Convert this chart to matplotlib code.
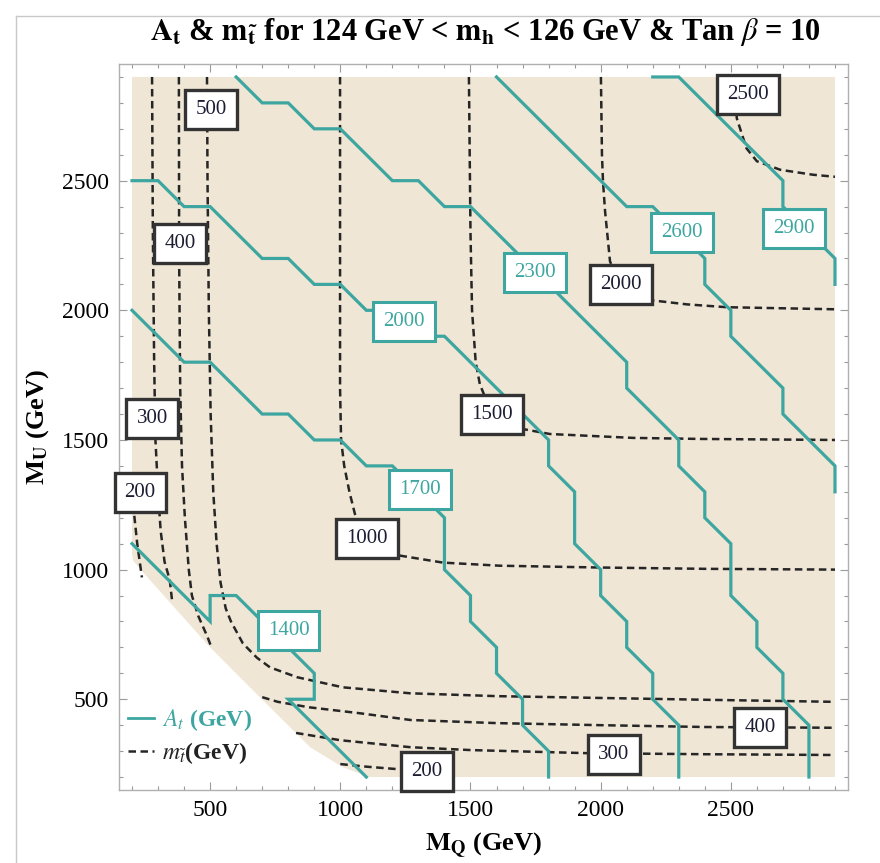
import matplotlib
matplotlib.use("Agg")
import matplotlib.pyplot as plt
from matplotlib.lines import Line2D
from matplotlib.ticker import MultipleLocator

plt.rcParams['font.family'] = ['Liberation Serif', 'DejaVu Serif']
plt.rcParams['mathtext.fontset'] = 'stix'

# ------------------------------------------------------------
# data (GeV)
# ------------------------------------------------------------

# allowed region (shaded)
region = [(200, 2900), (2900, 2900), (2900, 200), (1110, 200), (1010, 238),
          (884, 315), (703, 496), (500, 700), (242, 990), (204, 1035), (200, 1060)]

# A_t contours (cyan)
at_levels = [1400, 1700, 2000, 2300, 2600, 2900]
at_1400 = [(200, 1100), (500, 800), (500, 900), (600, 900), (700, 800), (800, 700),
           (900, 600), (900, 500), (800, 500), (1100, 200)]
at_1700 = [(200, 2000), (300, 1900), (400, 1800), (500, 1800), (700, 1600), (800, 1600),
           (900, 1500), (1000, 1500), (1100, 1400), (1200, 1400), (1300, 1300), (1400, 1200),
           (1400, 1000), (1500, 900), (1500, 800), (1600, 700), (1600, 600), (1700, 500),
           (1700, 400), (1800, 300), (1800, 200)]
at_2000 = [(200, 2500), (300, 2500), (400, 2400), (500, 2400), (700, 2200), (800, 2200),
           (900, 2100), (1000, 2100), (1100, 2000), (1200, 2000), (1300, 1900), (1400, 1900),
           (1800, 1500), (1800, 1400), (1900, 1300), (1900, 1100), (2000, 1000), (2000, 900),
           (2100, 800), (2100, 700), (2200, 600), (2200, 500), (2300, 400), (2300, 200)]
at_2300 = [(600, 2900), (700, 2800), (800, 2800), (900, 2700), (1000, 2700), (1200, 2500),
           (1300, 2500), (1400, 2400), (1500, 2400), (2100, 1800), (2100, 1700), (2300, 1500),
           (2300, 1400), (2400, 1300), (2400, 1200), (2500, 1100), (2500, 900), (2600, 800),
           (2600, 700), (2700, 600), (2700, 500), (2800, 400), (2800, 200)]
at_2600 = [(1600, 2900), (2100, 2400), (2200, 2400), (2300, 2300), (2400, 2200), (2400, 2100),
           (2500, 2000), (2500, 1900), (2700, 1700), (2700, 1600), (2900, 1400), (2900, 1300)]
at_2900 = [(2200, 2900), (2300, 2900), (2700, 2500), (2700, 2400), (2900, 2200), (2900, 2100)]
at_lines = [at_1400, at_1700, at_2000, at_2300, at_2600, at_2900]
at_label_pos = [(801, 765), (1306, 1308), (1245, 1958), (1748, 2146), (2312, 2300), (2742, 2315)]

# stop mass contours (dashed)
mst_200a = [(205, 1300), (208, 1215), (220, 1100), (238, 970)]
mst_200b = [(1000, 250), (1100, 240), (1250, 228), (1330, 225)]
mst_300a = [(277, 2900), (280, 2300), (285, 1800), (290, 1500), (300, 1300), (310, 1150),
            (325, 1030), (345, 960), (355, 870)]
mst_300b = [(830, 370), (1000, 342), (1270, 315), (1500, 304), (1950, 292), (2400, 288),
            (2900, 285)]
mst_400a = [(380, 2900), (381, 2200), (385, 1700), (392, 1400), (403, 1200), (418, 1000),
            (430, 900), (455, 820), (490, 740), (505, 700)]
mst_400b = [(700, 508), (760, 490), (880, 469), (1075, 446), (1270, 420), (1600, 408),
            (2000, 400), (2400, 393), (2900, 390)]
mst_500 = [(488, 2900), (490, 2500), (495, 2000), (502, 1600), (512, 1300), (525, 1100),
           (540, 950), (560, 850), (580, 800), (626, 715), (680, 660), (730, 623), (834, 585),
           (1010, 546), (1268, 523), (1600, 512), (2000, 505), (2400, 498), (2900, 490)]
mst_1000 = [(999, 2900), (999, 1700), (1003, 1500), (1015, 1400), (1035, 1300), (1056, 1215),
            (1100, 1110), (1229, 1054), (1394, 1027), (1613, 1015), (2000, 1008), (2400, 1003),
            (2900, 1000)]
mst_1500 = [(1494, 2900), (1500, 2300), (1506, 2000), (1520, 1800), (1536, 1715), (1582, 1600),
            (1702, 1542), (1805, 1523), (2124, 1508), (2381, 1504), (2900, 1500)]
mst_2000 = [(2001, 2900), (2005, 2600), (2009, 2496), (2017, 2381), (2036, 2188), (2078, 2100),
            (2201, 2038), (2331, 2023), (2485, 2012), (2900, 2004)]
mst_2500 = [(2510, 2900), (2523, 2740), (2560, 2625), (2600, 2575), (2690, 2542), (2815, 2523),
            (2900, 2515)]
mst_lines = [mst_200a, mst_200b, mst_300a, mst_300b, mst_400a, mst_400b, mst_500,
             mst_1000, mst_1500, mst_2000, mst_2500]
mst_labels = [200, 300, 400, 500, 1000, 1500, 2000, 2500, 400, 300, 200]
mst_label_pos = [(231, 1296), (277, 1581), (384, 2258), (503, 2773), (1102, 1119),
                 (1582, 1600), (2078, 2100), (2566, 2831), (2612, 392), (2051, 285), (1333, 223)]

CYAN = '#3da6a0'
BEIGE = '#efe6d5'
DARK = '#262626'

# ------------------------------------------------------------
# figure
# ------------------------------------------------------------

fig = plt.figure(figsize=(8.8, 8.63), dpi=100)
ax = fig.add_axes([119 / 880, 1 - 790 / 863, 729 / 880, 726 / 863])

ax.fill([p[0] for p in region], [p[1] for p in region],
        color=BEIGE, lw=0, zorder=0)

for line in mst_lines:
    ax.plot([p[0] for p in line], [p[1] for p in line],
            color=DARK, lw=1.8, dashes=(3.0, 1.8), zorder=2)

for line in at_lines:
    ax.plot([p[0] for p in line], [p[1] for p in line],
            color=CYAN, lw=2.3, zorder=3, solid_joinstyle='miter')

for lvl, (x, y) in zip(mst_labels, mst_label_pos):
    ax.text(x, y, str(lvl), ha='center', va='center', fontsize=15,
            color='#1c1c33', zorder=5,
            bbox=dict(boxstyle='square,pad=0.48', fc='white', ec='#333333', lw=2.4))

for lvl, (x, y) in zip(at_levels, at_label_pos):
    ax.text(x, y, str(lvl), ha='center', va='center', fontsize=15,
            color=CYAN, zorder=5,
            bbox=dict(boxstyle='square,pad=0.48', fc='white', ec=CYAN, lw=2.2))

ax.set_xlim(150, 2950)
ax.set_ylim(150, 2950)

ax.xaxis.set_major_locator(MultipleLocator(500))
ax.yaxis.set_major_locator(MultipleLocator(500))
ax.xaxis.set_minor_locator(MultipleLocator(100))
ax.yaxis.set_minor_locator(MultipleLocator(100))
ax.tick_params(which='both', direction='in', top=True, right=True,
               color='#9a9a9a', width=0.8)
ax.tick_params(which='major', length=6, labelsize=17, pad=7)
ax.tick_params(which='minor', length=3)
for s in ax.spines.values():
    s.set_color('#b0b0b0')
    s.set_linewidth(1.0)

ax.set_xlabel(r'$\mathbf{M_Q}$ (GeV)', fontsize=19, fontweight='bold', labelpad=7)
ax.set_ylabel(r'$\mathbf{M_U}$ (GeV)', fontsize=19, fontweight='bold', labelpad=8)

fig.text(485 / 880, 1 - 32 / 863,
         r'$\mathbf{A_t}$ & $\mathbf{m_{\tilde{t}}}$ for 124 GeV < $\mathbf{m_h}$ < 126 GeV & Tan $\beta$ = 10',
         ha='center', va='center', fontsize=22, fontweight='bold')

handles = [Line2D([], [], color=CYAN, lw=2),
           Line2D([], [], color=DARK, lw=1.8, dashes=(3.0, 1.8))]
ax.legend(handles, [r'$A_t$ (GeV)', r'$m_{\tilde{t}}$(GeV)'],
          loc='lower left', bbox_to_anchor=(0.0, 0.02), borderaxespad=0,
          frameon=False, handlelength=1.1, handletextpad=0.3, labelspacing=0.3,
          prop=dict(family='Liberation Serif', weight='bold', size=17),
          labelcolor=[CYAN, '#222222'])

# notebook cell frame
fig.add_artist(Line2D([16 / 880, 16 / 880], [0, 1 - 16 / 863],
                      transform=fig.transFigure, color='#c8c8c8', lw=1))
fig.add_artist(Line2D([16 / 880, 1], [1 - 16 / 863, 1 - 16 / 863],
                      transform=fig.transFigure, color='#c8c8c8', lw=1))

fig.savefig('out.png', dpi=100)
